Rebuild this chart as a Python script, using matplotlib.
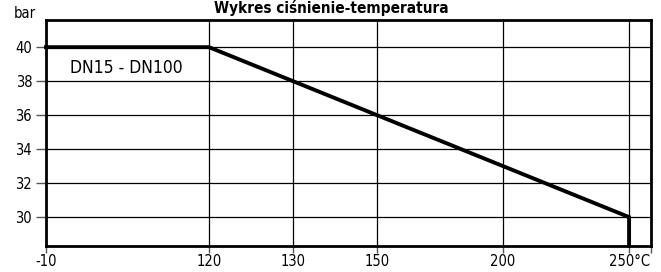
import numpy as np
import matplotlib
matplotlib.use("Agg")
import matplotlib.pyplot as plt

plt.rcParams['font.family'] = ['DejaVu Sans']
plt.rcParams['font.stretch'] = 'condensed'

# dane
temp_ticks = [-10, 120, 130, 150, 200, 250]
temp_labels = ["-10", "120", "130", "150", "200", "250°C"]
tick_pos = [0, 163, 247, 331, 457, 583]   # rozstaw osi (nieliniowy)
curve_t = [-10, 120, 250, 250]
curve_p = [40, 40, 30, None]
p_ticks = [30, 32, 34, 36, 38, 40]
X_LIM = (-10, 258.7)
Y_LIM = (28.3, 41.6)

def fwd(t):
    t = np.asarray(t, dtype=float)
    x = np.interp(t, temp_ticks, tick_pos)
    hi = t > temp_ticks[-1]
    x = np.where(hi, tick_pos[-1] + (t - temp_ticks[-1]) * 126 / 50, x)
    return x

def inv(x):
    x = np.asarray(x, dtype=float)
    t = np.interp(x, tick_pos, temp_ticks)
    hi = x > tick_pos[-1]
    t = np.where(hi, temp_ticks[-1] + (x - tick_pos[-1]) * 50 / 126, t)
    return t

fig = plt.figure(figsize=(6.61, 2.72), dpi=100)
ax = fig.add_axes([46/661, 1 - 246/272, 605/661, 226/272])
ax.set_xscale('function', functions=(fwd, inv))
ax.set_xlim(*X_LIM)
ax.set_ylim(*Y_LIM)

ys = [p if p is not None else Y_LIM[0] for p in curve_p]
ax.plot(curve_t, ys, color="black", lw=2.8, solid_joinstyle="miter", zorder=3, clip_on=False)

ax.set_xticks(temp_ticks)
ax.set_xticklabels(temp_labels, fontsize=10.5)
ax.set_xticks([X_LIM[1]], minor=True)
ax.set_yticks(p_ticks)
ax.set_yticklabels([str(p) for p in p_ticks], fontsize=10.5)
ax.tick_params(axis="y", which="both", length=7, width=1, color="#555555", pad=3)
ax.tick_params(axis="x", which="both", length=5, width=1, color="#555555", pad=1)
ax.xaxis.set_minor_formatter(plt.NullFormatter())
ax.grid(True, color="black", lw=0.9)
for s in ax.spines.values():
    s.set_linewidth(2)
ax.set_axisbelow(True)

ax.text(9, 38.8, "DN15 - DN100", fontsize=12.5, va="center", ha="left")
fig.text(25/661, 1 - 14/272, "bar", fontsize=10.5, ha="center", va="center")
fig.text(331/661, 1.0, "Wykres ciśnienie-temperatura", fontsize=11, fontweight="bold",
         ha="center", va="top")

fig.savefig("out.png", dpi=100)
